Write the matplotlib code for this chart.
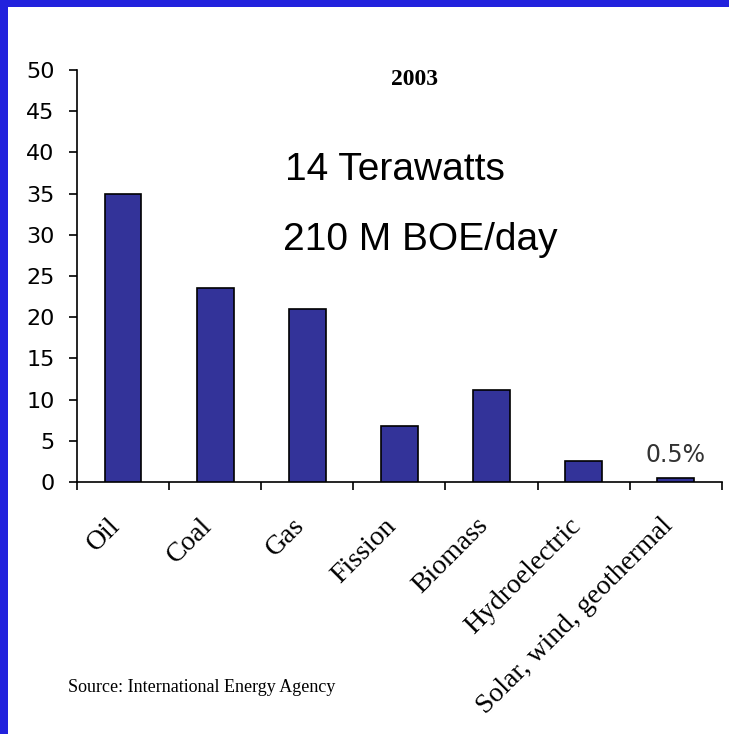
import matplotlib
matplotlib.use("Agg")

import numpy as np
import matplotlib.pyplot as plt
from matplotlib.patches import Rectangle

# world primary energy supply by source, 2003 (percent)
sources = ['Oil', 'Coal', 'Gas', 'Fission', 'Biomass', 'Hydroelectric',
           'Solar, wind, geothermal']
shares = [35, 23.5, 21, 6.8, 11.2, 2.5, 0.5]
y_ticks = [0, 5, 10, 15, 20, 25, 30, 35, 40, 45, 50]

BAR_COLOR = '#333399'
FRAME_BLUE = '#2222dd'

fig = plt.figure(figsize=(7.29, 7.34), dpi=100)
fig.patch.set_facecolor('white')

# blue frame on the left and top edges
fig.patches.append(Rectangle((0, 0), 8 / 729, 1, transform=fig.transFigure,
                             facecolor=FRAME_BLUE, edgecolor='none'))
fig.patches.append(Rectangle((0, 1 - 7 / 734), 1, 7 / 734,
                             transform=fig.transFigure,
                             facecolor=FRAME_BLUE, edgecolor='none'))

ax = fig.add_axes([0.1056, 0.3433, 0.8844, 0.5613])
x = np.arange(len(sources))
ax.bar(x, shares, width=0.4, color=BAR_COLOR, edgecolor='black',
       linewidth=1.2, zorder=3)

ax.set_xlim(-0.5, len(sources) - 0.5)
ax.set_ylim(0, 50)
ax.set_yticks(y_ticks)
ax.set_yticklabels([str(t) for t in y_ticks], fontsize=16,
                   family='DejaVu Sans', color='#222222')
ax.set_xticks(np.arange(len(sources) + 1) - 0.5)
ax.set_xticklabels([])
ax.tick_params(axis='both', direction='out', length=6, width=1.2,
               colors='black')
ax.tick_params(axis='y', pad=10)

for side in ('top', 'right'):
    ax.spines[side].set_visible(False)
for side in ('left', 'bottom'):
    ax.spines[side].set_linewidth(1.2)

# category names, rotated, Times-like serif
for xi, name in zip(x, sources):
    ax.text(xi - 0.17, -3.8, name, rotation=45, ha='right', va='top',
            rotation_mode='anchor', fontsize=20, family='Liberation Serif',
            transform=ax.transData, clip_on=False)

ax.text(3.16, 48.2, '2003', ha='center', va='baseline', fontsize=17,
        fontweight='bold', family='Liberation Serif')
ax.text(2.95, 36.65, '14 Terawatts', ha='center', va='baseline',
        fontsize=28, family='Liberation Sans')
ax.text(3.23, 28.16, '210 M BOE/day', ha='center', va='baseline',
        fontsize=28, family='Liberation Sans')
ax.text(6.0, 2.45, '0.5%', ha='center', va='baseline', fontsize=17,
        family='DejaVu Sans', color='#333333')

fig.text(68 / 729, 1 - 688 / 734, 'Source: International Energy Agency',
         ha='left', va='center', fontsize=13, family='Liberation Serif')

fig.savefig('out.png', dpi=100, facecolor='white')
